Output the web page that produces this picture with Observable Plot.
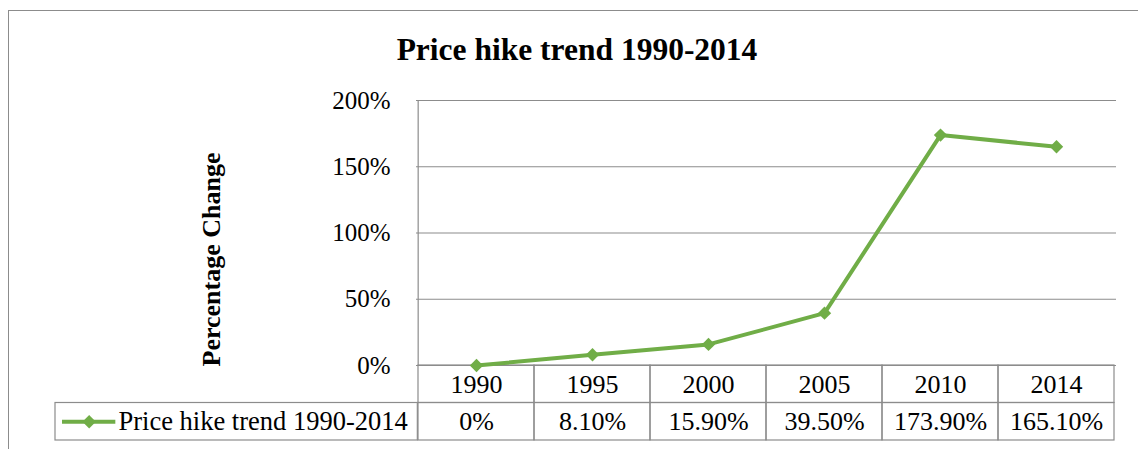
<!DOCTYPE html>
<html>
<head>
<meta charset="utf-8">
<script src="https://cdn.jsdelivr.net/npm/d3@7"></script>
<script src="https://cdn.jsdelivr.net/npm/@observablehq/plot@0.6"></script>
<style>
  html, body { margin: 0; padding: 0; background: #fff; }
  #wrap { position: relative; width: 1138px; height: 449px; overflow: hidden; font-family: "Liberation Serif", "Times New Roman", serif; }
  #border { position: absolute; left: 8px; top: 10px; width: 1300px; height: 600px; border: 1.5px solid #8c8c8c; box-sizing: border-box; }
  #title { position: absolute; left: 0; width: 1154px; top: 34px; text-align: center; font-size: 31.5px; line-height: 31.5px; font-weight: bold; color: #000; }
  #chart { position: absolute; left: 0; top: 0; }
  #chart svg { overflow: visible; }
  #chart svg text, #chart svg g { font-family: "Liberation Serif", "Times New Roman", serif !important; font-variant: normal !important; }
</style>
</head>
<body>
<div id="wrap">
  <div id="border"></div>
  <div id="chart"></div>
  <div id="title">Price hike trend 1990-2014</div>
</div>
<script>
const years = [1990, 1995, 2000, 2005, 2010, 2014];
const values = [0, 0.081, 0.159, 0.395, 1.739, 1.651];
const yTicks = [0, 0.5, 1, 1.5, 2];
const seriesName = "Price hike trend 1990-2014";
const yLabel = "Percentage Change";

const data = years.map((y, i) => ({year: y, value: values[i]}));
const fmtVal = v => v === 0 ? "0%" : d3.format(".2%")(v);

const W = 1138, H = 449;
const mL = 416, mR = 22, mT = 100, mB = 84;
const bw = (W - mL - mR) / years.length;
const pxPerUnit = (H - mT - mB) / 2;
const rowPx = 37.5;
const r1 = -rowPx / pxPerUnit;        // bottom of year row
const r2 = -2 * rowPx / pxPerUnit;    // bottom of value row
const green = "#70AD47";
const grid = "#8c8c8c";
const font = "'Liberation Serif', 'Times New Roman', serif";

const plot = Plot.plot({
  width: W, height: H,
  marginLeft: mL, marginRight: mR, marginTop: mT, marginBottom: mB,
  style: {fontFamily: font, fontSize: "25px", color: "#000", background: "transparent"},
  x: {type: "band", domain: years, padding: 0, axis: null},
  y: {domain: [0, 2], axis: null},
  marks: [
    Plot.ruleY(yTicks, {stroke: grid, strokeWidth: 1.2}),
    Plot.ruleX([years[0]], {x: d => d, dx: -bw / 2, stroke: grid, strokeWidth: 1.2}),
    // table cells
    Plot.barY(years, {x: d => d, y1: 0, y2: r1, fill: "none", stroke: grid, strokeWidth: 1.2}),
    Plot.barY(years, {x: d => d, y1: r1, y2: r2, fill: "none", stroke: grid, strokeWidth: 1.2}),
    Plot.barY([years[0]], {x: d => d, y1: r1, y2: r2, fill: "none", stroke: grid, strokeWidth: 1.2,
      insetLeft: -(mL - 53), insetRight: bw}),
    Plot.text(years, {x: d => d, y: r1 / 2, text: d => String(d), fontSize: 26, fill: "#000", fontFamily: font}),
    Plot.text(data, {x: "year", y: (r1 + r2) / 2, text: d => fmtVal(d.value), fontSize: 26, fill: "#000", fontFamily: font}),
    // legend in table
    Plot.tickY([{year: years[0], y: (r1 + r2) / 2}], {x: "year", y: "y", stroke: green, strokeWidth: 4,
      insetLeft: -(mL - 60), insetRight: bw + (mL - 114)}),
    Plot.dot([{year: years[0], y: (r1 + r2) / 2}], {x: "year", y: "y", dx: -(mL + bw / 2 - 87),
      symbol: "diamond2", r: 6, fill: green, stroke: "none"}),
    Plot.text([seriesName], {frameAnchor: "bottom-left", dx: -(mL - 118), dy: 56, text: d => d,
      textAnchor: "start", lineAnchor: "middle", fontSize: 26.5, fill: "#000", fontFamily: font}),
    // y axis
    Plot.axisY(yTicks, {tickFormat: d3.format(".0%"), tickSize: 0, tickPadding: 26, fontSize: 25, label: null, fontFamily: font}),
    Plot.text([yLabel], {frameAnchor: "left", dx: -205, dy: 26.5, rotate: -90, text: d => d,
      textAnchor: "middle", lineAnchor: "middle", fontWeight: "bold", fontSize: 26, fill: "#000", fontFamily: font}),
    // series
    Plot.line(data, {x: "year", y: "value", stroke: green, strokeWidth: 4}),
    Plot.dot(data, {x: "year", y: "value", symbol: "diamond2", r: 6, fill: green, stroke: "none"})
  ]
});
document.getElementById("chart").appendChild(plot);
</script>
</body>
</html>
